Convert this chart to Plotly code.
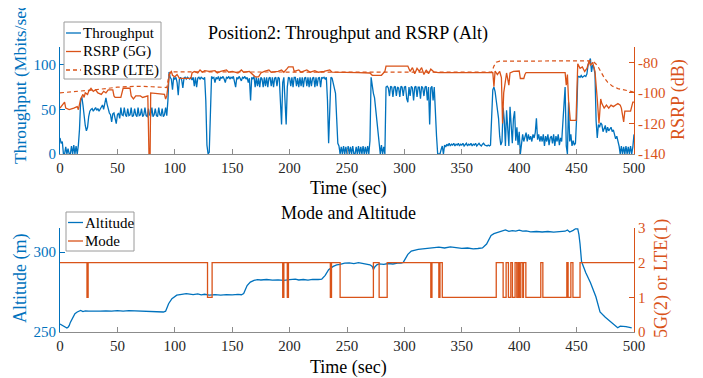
import plotly.graph_objects as go

BLUE = '#0072BD'
ORANGE = '#D95319'
FONT = 'Liberation Serif'
AXGRAY = '#8c8c8c'

# ---------------- data ----------------
tp_time = list(range(0, 501))
throughput = [
    18, 12, 14, 0, 0, 8, 0, 6, 0, 0,
    9, 0, 10, 0, 9, 0, 10, 28, 60, 64,
    55, 40, 32, 26, 30, 42, 48, 50, 51, 48,
    50, 52, 49, 51, 48, 50, 52, 55, 50, 58,
    63, 56, 50, 46, 44, 36, 45, 46, 40, 34,
    44, 46, 40, 52, 44, 43, 52, 44, 42, 51,
    43, 44, 52, 42, 43, 51, 44, 42, 52, 43,
    44, 51, 42, 44, 52, 43, 42, 51, 44, 43,
    52, 42, 44, 51, 43, 42, 52, 44, 43, 51,
    42, 44, 52, 43, 60, 92, 86, 84, 72, 86,
    84, 86, 80, 66, 84, 86, 83, 74, 85, 86,
    84, 86, 85, 84, 86, 83, 86, 76, 86, 75,
    85, 86, 84, 86, 85, 84, 86, 60, 10, 0,
    2, 45, 87, 85, 86, 80, 86, 84, 87, 82,
    86, 85, 87, 84, 80, 86, 85, 87, 84, 86,
    85, 87, 80, 75, 86, 84, 87, 85, 82, 86,
    85, 87, 84, 86, 80, 85, 60, 86, 84, 87,
    75, 86, 76, 85, 75, 86, 84, 75, 86, 76,
    86, 75, 85, 86, 76, 86, 75, 85, 86, 76,
    86, 85, 55, 33, 80, 86, 60, 33, 75, 86,
    85, 76, 86, 75, 86, 86, 76, 85, 75, 86,
    76, 86, 75, 85, 86, 76, 86, 75, 86, 76,
    85, 86, 75, 86, 76, 85, 86, 75, 86, 85,
    86, 84, 86, 60, 12, 60, 86, 85, 80, 72,
    68, 40, 12, 9, 0, 8, 0, 9, 0, 8,
    0, 9, 0, 8, 0, 9, 0, 0, 8, 0,
    9, 0, 8, 0, 9, 0, 8, 0, 9, 0,
    15, 86, 74, 68, 63, 50, 35, 20, 5, 0,
    10, 0, 8, 0, 75, 76, 74, 65, 76, 75,
    64, 75, 76, 65, 75, 74, 64, 76, 75, 65,
    75, 76, 62, 58, 75, 65, 76, 74, 60, 75,
    76, 64, 75, 75, 62, 76, 74, 65, 75, 76,
    60, 75, 33, 74, 76, 60, 75, 37, 20, 0,
    0, 0, 5, 9, 0, 10, 8, 11, 9, 12,
    9, 11, 10, 12, 9, 11, 10, 12, 9, 11,
    10, 12, 9, 11, 12, 9, 11, 10, 12, 9,
    11, 10, 12, 9, 11, 12, 10, 9, 11, 12,
    10, 9, 9, 10, 9, 10, 45, 72, 75, 70,
    60, 52, 40, 20, 10, 14, 52, 38, 9, 49,
    20, 9, 53, 30, 12, 40, 48, 15, 30, 10,
    25, 0, 15, 22, 14, 20, 24, 14, 22, 16,
    20, 14, 22, 18, 24, 40, 16, 22, 14, 20,
    14, 22, 9, 20, 14, 22, 10, 18, 20, 12,
    22, 9, 20, 14, 22, 10, 18, 14, 30, 55,
    75, 9, 0, 58, 14, 22, 9, 15, 10, 12,
    40, 86, 87, 86, 88, 86, 87, 88, 87, 90,
    100, 104, 107, 92, 100, 97, 90, 37, 18, 33,
    30, 35, 33, 25, 28, 32, 24, 30, 26, 28,
    30, 25, 27, 22, 17, 20, 15, 9, 0, 9,
    0, 8, 0, 9, 0, 8, 0, 9, 0, 8,
    22,
]

rsrp5g_time = [
    0, 2, 4, 5, 8, 12, 15, 16, 17, 18, 20, 21, 22, 24, 25, 27, 29, 31, 33, 36,
    38, 40, 42, 46, 47, 48, 53, 54, 55, 61, 62, 64, 66, 70, 72, 76.5, 77.5, 78.5, 79, 91,
    92, 93, 94, 95.5, 97, 98, 100, 102, 104, 114, 115, 117, 120, 122, 124, 126, 130, 135, 137, 140,
    145, 147, 150, 155, 158, 160, 165, 168, 170, 173, 175, 178, 182, 184, 190, 193, 195, 198, 199, 203,
    204, 208, 210, 215, 218, 222, 225, 230, 235, 237, 245, 260, 270, 272, 280, 283, 284, 303, 305, 307,
    309, 311, 313, 315, 317, 319, 321, 323, 326, 330, 376, 377, 378, 379, 381, 383, 384.5, 385.5, 386.5, 388,
    389, 391, 392, 395, 397, 400, 401, 404, 405, 406, 440, 441, 442, 443, 444.5, 449.5, 451, 453, 455, 457,
    459, 461, 462, 464, 465, 466, 468, 469.5, 471, 472, 474, 476, 478, 480, 482, 484, 486, 488, 489, 491,
    492, 494, 497, 499, 500,
]
rsrp5g = [
    -110, -108, -106, -110, -111, -110, -109, -111, -108, -104, -101, -103, -100, -101, -99, -97, -99, -98, -100, -101,
    -99, -100, -98, -98, -102, -103, -103, -99, -97, -97, -102, -104, -102, -102, -103, -102, -140, -140, -100, -101,
    -104, -102, -95, -87, -86, -88.5, -89.5, -88, -90.5, -90.5, -87, -86, -87, -85, -86.5, -85.5, -86, -85.5, -87, -86,
    -85, -86.5, -86, -87, -85, -86.5, -86, -88, -89.5, -89.5, -87, -86, -85, -86.5, -86, -85, -86.5, -84, -83, -83,
    -86, -85, -86.5, -85, -86.5, -85.5, -86.5, -86, -85, -86.5, -86.5, -86.7, -87, -88.5, -88.5, -86, -82.5, -82.5, -86, -83.5,
    -87.5, -84, -86, -83.5, -88, -85, -87.5, -84.5, -86.5, -86.7, -86.7, -86.7, -96, -85.7, -88, -86, -90, -120, -100, -92,
    -87, -95, -87, -86, -85.7, -85.7, -90.6, -90.6, -88, -86.7, -86.7, -95, -88, -105, -118, -118, -81, -84, -83, -86,
    -84, -79, -82, -80, -83, -86, -104, -120, -104, -107, -110, -108, -110, -108, -109, -108, -107, -108, -110, -119,
    -112, -112, -112, -106, -106,
]

rsrplte_time = [0, 10, 20, 30, 40, 50, 60, 70, 80, 90, 93, 95, 97, 376, 378, 380, 383, 462, 465,
                468, 471, 474, 477, 481, 486, 491, 496, 500]
rsrplte = [-100, -99.5, -98.7, -98, -97.2, -96.3, -95.9, -95.7, -96, -96.5, -96.5, -88, -86.3, -86.5,
           -82.5, -80, -79.3, -79, -79.8, -82, -86, -90, -93, -95.5, -97.2, -98.2, -99, -99.5]

alt_time = [
    0, 1, 2, 3, 4, 6, 7, 8, 9, 10, 11, 12, 13, 15, 17, 18, 20, 22, 25, 30,
    35, 40, 45, 50, 55, 60, 65, 70, 75, 80, 85, 88, 90, 92, 94.6, 97.5, 101.7, 106, 110, 113,
    116, 120, 123, 126, 130, 135, 140, 145, 150, 155, 158, 160, 161.4, 163, 165.8, 169, 172, 175, 180, 185,
    190, 195, 200, 205, 208, 212, 216, 220, 225, 228, 231, 234, 238, 241, 244, 248, 252, 256, 260, 264,
    268, 270, 272, 273, 274, 276, 278, 282, 286, 290, 294, 297, 299, 301, 303, 306, 309, 312, 316, 320,
    325, 330, 335, 340, 345, 350, 355, 360, 364, 368, 371.6, 373.5, 375.5, 378, 381.6, 385, 388, 391, 394, 397,
    400, 403, 406, 410, 415, 420, 425, 430, 435, 440, 442, 444, 447, 449, 451, 452, 453, 454.3, 458, 462,
    466.8, 470.4, 475, 481, 485.8, 488, 490, 493, 496, 498,
]
altitude = [
    255, 254.5, 254, 253.5, 253, 252.5, 253, 254, 256, 257.5, 259, 260.5, 261.5, 262.5, 263, 263.5, 262.8, 263.2, 263, 262.8,
    263, 263.2, 263, 263.3, 263.1, 263.4, 263.2, 263.3, 263, 262.8, 262.7, 262.5, 262.5, 263, 267.7, 270.8, 273, 273.5, 274, 273.7,
    273.4, 273.8, 273.2, 273.6, 273, 273.3, 273.1, 273.4, 273.2, 273.5, 273.3, 274, 276, 279, 281.2, 282.3, 282.7, 282.5, 282.8, 282.4,
    282.6, 282.3, 282.7, 283, 282.5, 282.8, 282.4, 282.9, 282.8, 283, 285.4, 289, 291, 292, 292.3, 293, 293.2, 292.8, 293.3, 292.9,
    292.5, 292, 291, 289, 290.5, 292, 292.6, 292.3, 292.8, 292.5, 293, 293, 293.5, 295.9, 298.5, 300.6, 301.2, 301.7, 302, 302.3,
    302.6, 303, 302.5, 303.2, 302.8, 302.3, 302.5, 302, 302.2, 302.5, 305, 307.5, 310.4, 311.5, 312.5, 313.2, 313.8, 312.9, 313.4, 313,
    313.6, 313, 313.2, 312.6, 312.8, 312.5, 312.8, 312.4, 312.6, 313, 313.8, 312.5, 313.5, 314.5, 314.5, 311, 305, 294, 287, 281,
    272, 262.5, 259.2, 255.6, 252.7, 253.7, 253.7, 253.3, 252.9, 252.6,
]

mode_time = [0, 23.5, 24.5, 128.5, 132.5, 194, 195, 198, 199, 235.5, 236.5, 244, 273, 278, 285,
             323, 324, 330, 331, 333, 380, 386, 388.6, 390.6, 392.7, 394.1, 396.4, 397.9, 399.1,
             400.2, 401.4, 403.1, 403.7, 405.8, 418.8, 420.6, 441.5, 442.6, 445, 446.8, 453, 500]
mode = [2, 1, 2, 1, 2, 1, 2, 1, 2, 1, 2, 1, 2, 1, 2,
        1, 2, 1, 2, 1, 2, 1, 2, 1, 2, 1, 2, 1, 2,
        1, 2, 1, 2, 1, 2, 1, 2, 1, 2, 1, 2, 2]

x_ticks = [0, 50, 100, 150, 200, 250, 300, 350, 400, 450, 500]
tp_ticks = [0, 50, 100]
rsrp_ticks = [-140, -120, -100, -80]
rsrp_ticktext = ['-140', '-120', '-100', '-80']
alt_ticks = [250, 300]
mode_ticks = [0, 1, 2, 3]

# ---------------- layout helpers (page pixel coords; page body has an 8px margin) ----------------
OFF = 8
W, H = 703 - OFF, 378 - OFF
PLOT_L, PLOT_R, PLOT_T, PLOT_B = 60, 634, 47, 332   # plot area in page pixels
L = PLOT_L - OFF
T = PLOT_T - OFF
R = W - (PLOT_R - OFF)
B = H - (PLOT_B - OFF)
PW = PLOT_R - PLOT_L
PH = PLOT_B - PLOT_T


def fx(p):
    return (p - PLOT_L) / PW


def fy(p):
    return (PLOT_B - p) / PH


fig = go.Figure()
fig.add_trace(go.Scatter(x=tp_time, y=throughput, mode='lines', xaxis='x', yaxis='y',
                         line=dict(color=BLUE, width=1.3), showlegend=False, name='Throughput'))
fig.add_trace(go.Scatter(x=rsrp5g_time, y=rsrp5g, mode='lines', xaxis='x', yaxis='y2',
                         line=dict(color=ORANGE, width=1.3), showlegend=False, name='RSRP (5G)'))
fig.add_trace(go.Scatter(x=rsrplte_time, y=rsrplte, mode='lines', xaxis='x', yaxis='y2',
                         line=dict(color=ORANGE, width=1.2, dash='4px,3px'), showlegend=False,
                         name='RSRP (LTE)'))
fig.add_trace(go.Scatter(x=alt_time, y=altitude, mode='lines', xaxis='x2', yaxis='y3',
                         line=dict(color=BLUE, width=1.3), showlegend=False, name='Altitude'))
fig.add_trace(go.Scatter(x=mode_time, y=mode, mode='lines', xaxis='x2', yaxis='y4',
                         line=dict(color=ORANGE, width=1.3, shape='hv'), showlegend=False,
                         name='Mode'))

top_dom = [fy(154), 1.0]
bot_dom = [0.0, fy(228)]

xcommon = dict(range=[0, 500], tickvals=x_ticks, ticks='inside', ticklen=5, tickcolor=AXGRAY,
               showline=True, linecolor=AXGRAY, linewidth=1, showgrid=False, zeroline=False,
               tickfont=dict(family=FONT, size=15, color='#262626'), domain=[0, 1])


def ycommon(color, side):
    return dict(ticks='inside', ticklen=5, tickcolor=color, showline=True, linecolor=color,
                linewidth=1, showgrid=False, zeroline=False, side=side,
                tickfont=dict(family=FONT, size=15, color=color))


fig.update_layout(
    width=W, height=H, autosize=False,
    margin=dict(l=L, r=R, t=T, b=B),
    paper_bgcolor='white', plot_bgcolor='white',
    font=dict(family=FONT, size=15, color='#262626'),
    xaxis=dict(anchor='y', **xcommon),
    xaxis2=dict(anchor='y3', **xcommon),
    yaxis=dict(domain=top_dom, anchor='x', range=[0, 120], tickvals=tp_ticks,
               **ycommon(BLUE, 'left')),
    yaxis2=dict(overlaying='y', anchor='x', range=[-140, -70], tickvals=rsrp_ticks,
                ticktext=rsrp_ticktext, **ycommon(ORANGE, 'right')),
    yaxis3=dict(domain=bot_dom, anchor='x2', range=[250, 315], tickvals=alt_ticks,
                **ycommon(BLUE, 'left')),
    yaxis4=dict(overlaying='y3', anchor='x2', range=[0, 3], tickvals=mode_ticks,
                **ycommon(ORANGE, 'right')),
)

ann = []


def text(s, px_, py_, size=18, color='#000000', angle=0, xanchor='center'):
    ann.append(dict(text=s, x=fx(px_), y=fy(py_), xref='paper', yref='paper',
                    showarrow=False, xanchor=xanchor, yanchor='middle', textangle=angle,
                    font=dict(family=FONT, size=size, color=color)))


text('Position2: Throughput and RSRP (Alt)', 348, 33)
text('Time (sec)', 348, 188)
text('Mode and Altitude', 348, 213)
text('Time (sec)', 348, 367)
text('Throughput (Mbits/sec)', 20, 81, size=17.5, color=BLUE, angle=-90)
text('RSRP (dB)', 678, 100, color=ORANGE, angle=-90)
text('Altitude (m)', 20, 279, color=BLUE, angle=-90)
text('5G(2) or LTE(1)', 661, 279, color=ORANGE, angle=-90)

shapes = []


def legend_box(x0, y0, x1, y1):
    shapes.append(dict(type='rect', xref='paper', yref='paper', x0=fx(x0), x1=fx(x1),
                       y0=fy(y1), y1=fy(y0), fillcolor='white',
                       line=dict(color='#9a9a9a', width=1), layer='above'))


def legend_item(label, color, dash, lx0, lx1, tx, ty):
    shapes.append(dict(type='line', xref='paper', yref='paper', x0=fx(lx0), x1=fx(lx1),
                       y0=fy(ty), y1=fy(ty), line=dict(color=color, width=1.3, dash=dash),
                       layer='above'))
    text(label, tx, ty, size=15, color='#000000', xanchor='left')


legend_box(64, 22, 161, 79)
legend_item('Throughput', BLUE, 'solid', 66, 81, 81, 33)
legend_item('RSRP (5G)', ORANGE, 'solid', 66, 81, 81, 51.5)
legend_item('RSRP (LTE)', ORANGE, '4px,3px', 66, 81, 81, 70)

legend_box(66, 212, 134, 251)
legend_item('Altitude', BLUE, 'solid', 68, 83, 83, 222.5)
legend_item('Mode', ORANGE, 'solid', 68, 83, 83, 241)

fig.update_layout(annotations=ann, shapes=shapes)

fig.write_html('out.html')
